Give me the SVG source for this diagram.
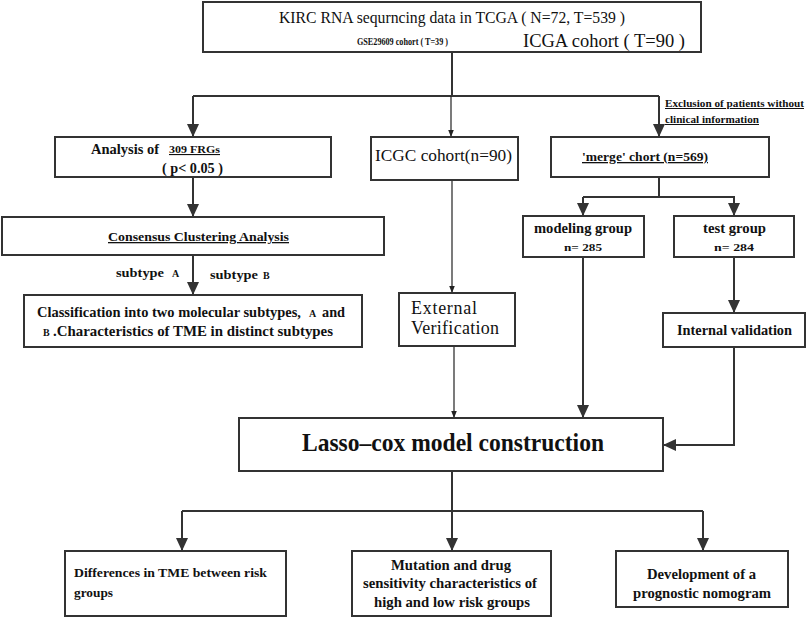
<svg xmlns="http://www.w3.org/2000/svg" width="809" height="618" viewBox="0 0 809 618">
<defs>
<style>
.box{fill:#fff;stroke:#333;stroke-width:2}
.ln{fill:none;stroke:#333;stroke-width:2}
.thin{fill:none;stroke:#222;stroke-width:1.2}
.t{font-family:"Liberation Serif","Times New Roman",serif;fill:#111}
.b{font-weight:bold}
.u{text-decoration:underline}
</style>
<marker id="ah" markerUnits="userSpaceOnUse" markerWidth="14" markerHeight="14" viewBox="0 0 14 14" refX="13" refY="7" orient="auto">
<path d="M0,1 L13,7 L0,13 z" fill="#333"/>
</marker>
<marker id="as" markerUnits="userSpaceOnUse" markerWidth="8" markerHeight="8" viewBox="0 0 8 8" refX="7.5" refY="4" orient="auto">
<path d="M0,1 L7.5,4 L0,7 z" fill="#222"/>
</marker>
</defs>
<rect width="809" height="618" fill="#fff"/>

<g id="connectors">
<line class="ln" x1="452" y1="52" x2="452" y2="96"/>
<polyline class="ln" points="193,96 659,96"/>
<line class="ln" x1="193" y1="96" x2="193" y2="137" marker-end="url(#ah)"/>
<line class="thin" x1="451" y1="96" x2="451" y2="137" marker-end="url(#as)"/>
<line class="ln" x1="659" y1="96" x2="659" y2="137" marker-end="url(#ah)"/>
<line class="ln" x1="193" y1="177" x2="193" y2="217" marker-end="url(#ah)"/>
<line class="ln" x1="193" y1="255" x2="193" y2="295" marker-end="url(#ah)"/>
<line class="thin" x1="452" y1="180" x2="452" y2="293" marker-end="url(#as)"/>
<line class="thin" x1="454" y1="346" x2="454" y2="418" marker-end="url(#as)"/>
<line class="ln" x1="659" y1="177" x2="659" y2="197"/>
<polyline class="ln" points="583,197 734,197 734,216" marker-end="url(#ah)"/>
<line class="ln" x1="583" y1="197" x2="583" y2="216" marker-end="url(#ah)"/>
<line class="ln" x1="583" y1="257" x2="583" y2="418" stroke-width="2.5" marker-end="url(#ah)"/>
<line class="ln" x1="734" y1="257" x2="734" y2="313" marker-end="url(#ah)"/>
<polyline class="ln" points="734,347 734,445 663,445" marker-end="url(#ah)"/>
<line class="ln" x1="452" y1="471" x2="452" y2="511"/>
<polyline class="ln" points="182,511 703,511"/>
<line class="ln" x1="182" y1="511" x2="182" y2="551" marker-end="url(#ah)"/>
<line class="ln" x1="452" y1="511" x2="452" y2="551" marker-end="url(#ah)"/>
<line class="ln" x1="703" y1="511" x2="703" y2="551" marker-end="url(#ah)"/>
</g>

<g id="top">
<rect class="box" x="203" y="2" width="498" height="50"/>
<text class="t" x="279" y="23" font-size="17" textLength="346" lengthAdjust="spacingAndGlyphs">KIRC RNA sequrncing data in TCGA ( N=72, T=539 )</text>
<text class="t b" x="357" y="45" font-size="11" textLength="91" lengthAdjust="spacingAndGlyphs">GSE29609 cohort ( T=39 )</text>
<text class="t" x="523" y="47" font-size="18" textLength="162" lengthAdjust="spacingAndGlyphs">ICGA cohort ( T=90 )</text>
</g>

<g id="analysis">
<rect class="box" x="55" y="137" width="276" height="40"/>
<text class="t b" x="91" y="154" font-size="14" textLength="68" lengthAdjust="spacingAndGlyphs">Analysis of</text>
<text class="t b u" x="169" y="153" font-size="11" textLength="51" lengthAdjust="spacingAndGlyphs">309 FRGs</text>
<text class="t b" x="162" y="173" font-size="14" textLength="61" lengthAdjust="spacingAndGlyphs">( p&lt; 0.05 )</text>
</g>

<g id="icgc">
<rect class="box" x="371" y="137" width="147" height="43"/>
<text class="t" x="375" y="161" font-size="17" textLength="137" lengthAdjust="spacingAndGlyphs">ICGC cohort(n=90)</text>
</g>

<g id="merge">
<rect class="box" x="551" y="137" width="218" height="40"/>
<text class="t b u" x="582" y="161" font-size="13" textLength="126" lengthAdjust="spacingAndGlyphs">'merge' chort (n=569)</text>
</g>

<g id="exclusion-label">
<text class="t b u" x="665" y="107" font-size="10" textLength="139" lengthAdjust="spacingAndGlyphs">Exclusion of patients without</text>
<text class="t b u" x="665" y="123" font-size="10" textLength="94" lengthAdjust="spacingAndGlyphs">clinical information</text>
</g>

<g id="consensus">
<rect class="box" x="2" y="217" width="382" height="38"/>
<text class="t b u" x="108" y="241" font-size="13" textLength="181" lengthAdjust="spacingAndGlyphs">Consensus Clustering Analysis</text>
</g>

<g id="subtype-labels">
<text class="t b" x="116" y="277" font-size="13" textLength="48" lengthAdjust="spacingAndGlyphs">subtype</text>
<text class="t b" x="172" y="277" font-size="10">A</text>
<text class="t b" x="210" y="279" font-size="13" textLength="48" lengthAdjust="spacingAndGlyphs">subtype</text>
<text class="t b" x="263" y="279" font-size="10">B</text>
</g>

<g id="classification">
<rect class="box" x="24" y="295" width="338" height="52"/>
<text class="t b" x="37" y="317" font-size="15" textLength="264" lengthAdjust="spacingAndGlyphs">Classification into two molecular subtypes,</text>
<text class="t b" x="309" y="317" font-size="10">A</text>
<text class="t b" x="322" y="317" font-size="15" textLength="23" lengthAdjust="spacingAndGlyphs">and</text>
<text class="t b" x="43" y="336" font-size="10">B</text>
<text class="t b" x="53" y="336" font-size="15" textLength="280" lengthAdjust="spacingAndGlyphs">.Characteristics of TME in distinct subtypes</text>
</g>

<g id="external">
<rect class="box" x="399" y="293" width="116" height="53"/>
<text class="t" x="411" y="314" font-size="18" textLength="66" lengthAdjust="spacing">External</text>
<text class="t" x="411" y="334" font-size="18" textLength="88" lengthAdjust="spacing">Verification</text>
</g>

<g id="modeling">
<rect class="box" x="523" y="216" width="121" height="41"/>
<text class="t b" x="534" y="233" font-size="14" textLength="98" lengthAdjust="spacingAndGlyphs">modeling group</text>
<text class="t b" x="564" y="251" font-size="11" textLength="38" lengthAdjust="spacingAndGlyphs">n= 285</text>
</g>

<g id="test">
<rect class="box" x="674" y="216" width="120" height="41"/>
<text class="t b" x="703" y="233" font-size="14" textLength="63" lengthAdjust="spacingAndGlyphs">test group</text>
<text class="t b" x="714" y="251" font-size="11" textLength="40" lengthAdjust="spacingAndGlyphs">n= 284</text>
</g>

<g id="internal">
<rect class="box" x="663" y="313" width="142" height="34"/>
<text class="t b" x="677" y="335" font-size="14" textLength="115" lengthAdjust="spacingAndGlyphs">Internal validation</text>
</g>

<g id="lasso">
<rect class="box" x="239" y="418" width="424" height="53"/>
<text class="t b" x="302" y="451" font-size="25" textLength="302" lengthAdjust="spacingAndGlyphs">Lasso–cox model construction</text>
</g>

<g id="tme">
<rect class="box" x="65" y="551" width="221" height="65"/>
<text class="t b" x="74" y="577" font-size="13" textLength="193" lengthAdjust="spacingAndGlyphs">Differences in TME between risk</text>
<text class="t b" x="74" y="597" font-size="13" textLength="39" lengthAdjust="spacingAndGlyphs">groups</text>
</g>

<g id="mutation">
<rect class="box" x="352" y="551" width="199" height="65"/>
<text class="t b" x="391" y="570" font-size="15" textLength="120" lengthAdjust="spacingAndGlyphs">Mutation and drug</text>
<text class="t b" x="363" y="588" font-size="15" textLength="174" lengthAdjust="spacingAndGlyphs">sensitivity characteristics of</text>
<text class="t b" x="374" y="607" font-size="15" textLength="156" lengthAdjust="spacingAndGlyphs">high and low risk groups</text>
</g>

<g id="nomogram">
<rect class="box" x="616" y="551" width="172" height="56"/>
<text class="t b" x="647" y="579" font-size="15" textLength="109" lengthAdjust="spacingAndGlyphs">Development of a</text>
<text class="t b" x="633" y="598" font-size="15" textLength="138" lengthAdjust="spacingAndGlyphs">prognostic nomogram</text>
</g>
</svg>
